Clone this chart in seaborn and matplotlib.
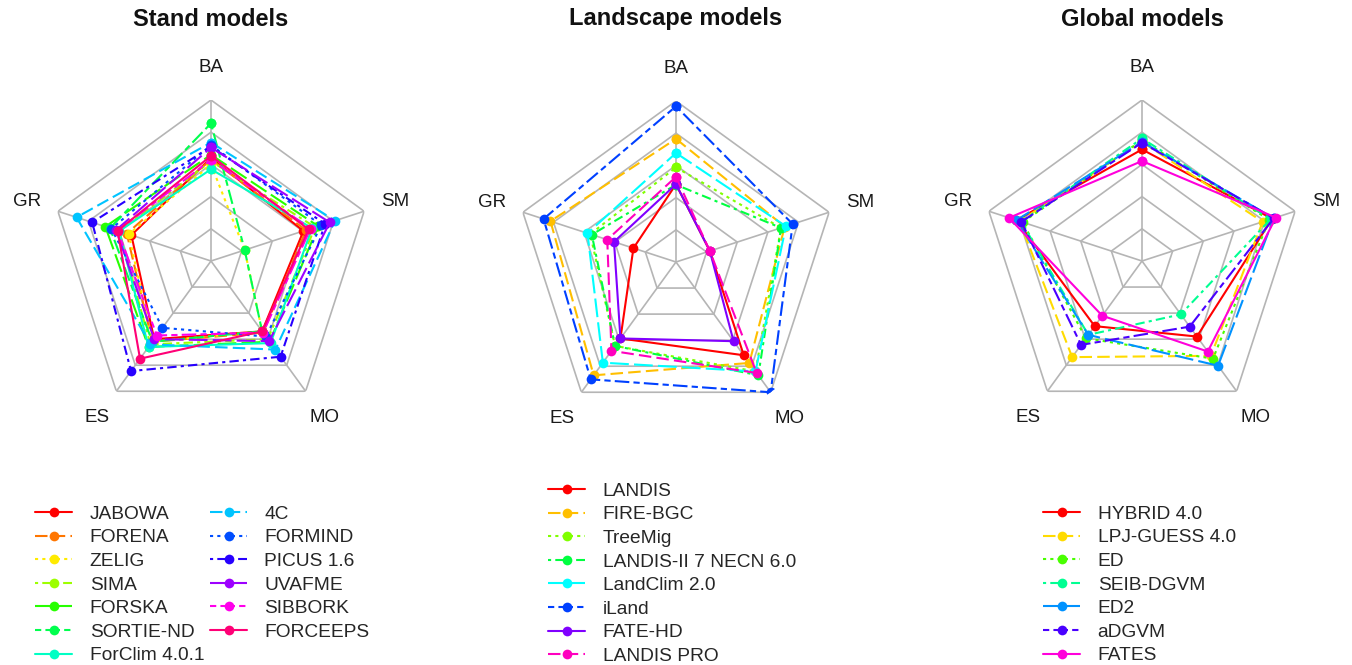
import colorsys

import numpy as np
import pandas as pd
import matplotlib
matplotlib.use("Agg")
import matplotlib.pyplot as plt
from matplotlib.lines import Line2D
import seaborn as sns

# ---------------------------------------------------------------- data
criteria = ["BA", "SM", "MO", "ES", "GR"]

stand_models = ["JABOWA", "FORENA", "ZELIG", "SIMA", "FORSKA", "SORTIE-ND",
                "ForClim 4.0.1", "4C", "FORMIND", "PICUS 1.6", "UVAFME",
                "SIBBORK", "FORCEEPS"]
stand_BA = [0.64, 0.63, 0.60, 0.62, 0.66, 0.855, 0.57, 0.736, 0.72, 0.71, 0.705, 0.628, 0.653]
stand_SM = [0.604, 0.62, 0.22, 0.68, 0.70, 0.22, 0.66, 0.81, 0.72, 0.745, 0.776, 0.65, 0.637]
stand_MO = [0.54, 0.55, 0.54, 0.60, 0.62, 0.54, 0.63, 0.68, 0.58, 0.735, 0.615, 0.55, 0.54]
stand_ES = [0.60, 0.62, 0.62, 0.64, 0.66, 0.62, 0.66, 0.64, 0.513, 0.845, 0.60, 0.572, 0.75]
stand_GR = [0.52, 0.55, 0.537, 0.60, 0.69, 0.66, 0.60, 0.878, 0.65, 0.776, 0.62, 0.61, 0.61]

landscape_models = ["LANDIS", "FIRE-BGC", "TreeMig", "LANDIS-II 7 NECN 6.0",
                    "LandClim 2.0", "iLand", "FATE-HD", "LANDIS PRO"]
landscape_BA = [0.483, 0.765, 0.5875, 0.48, 0.677, 0.967, 0.483, 0.529]
landscape_SM = [0.221, 0.71, 0.686, 0.686, 0.718, 0.762, 0.221, 0.221]
landscape_MO = [0.716, 0.775, 0.84, 0.87, 0.84, 1.0, 0.608, 0.852]
landscape_ES = [0.587, 0.87, 0.644, 0.644, 0.773, 0.901, 0.587, 0.682]
landscape_GR = [0.278, 0.82, 0.56, 0.55, 0.578, 0.865, 0.405, 0.449]

global_models = ["HYBRID 4.0", "LPJ-GUESS 4.0", "ED", "SEIB-DGVM", "ED2",
                 "aDGVM", "FATES"]
global_BA = [0.693, 0.74, 0.75, 0.761, 0.74, 0.735, 0.621]
global_SM = [0.85, 0.788, 0.83, 0.84, 0.86, 0.86, 0.874]
global_MO = [0.58, 0.728, 0.75, 0.41, 0.804, 0.504, 0.695]
global_ES = [0.50, 0.738, 0.593, 0.567, 0.567, 0.644, 0.42]
global_GR = [0.82, 0.80, 0.78, 0.79, 0.82, 0.788, 0.868]

grid_levels = [0.2, 0.4, 0.6, 0.8, 1.0]

# ---------------------------------------------------------------- style
sns.set_theme(style="white")
plt.rcParams["font.family"] = ["Liberation Sans", "DejaVu Sans"]

W, H = 1352, 665
GRID_COLOR = "#b5b5b5"
LINE_STYLES = [
    "-",                        # solid
    (0, (6, 2.5)),              # dashed
    (0, (1.5, 2.0)),            # dotted
    (0, (1.5, 2.0, 4.5, 2.0)),  # dot-dash
    (0, (9, 2.5)),              # long dash
    (0, (3, 2, 7, 2)),          # two-dash
]


def rainbow(n):
    return [colorsys.hsv_to_rgb(i / n, 1.0, 1.0) for i in range(n)]


def fig_xy(x, y):
    """Pixel position (from top-left) to figure fraction."""
    return x / W, 1 - y / H


def radar_frame(models, BA, SM, MO, ES, GR):
    df = pd.DataFrame({"model": models, "BA": BA, "SM": SM, "MO": MO,
                       "ES": ES, "GR": GR})
    long = df.melt(id_vars="model", value_vars=criteria,
                   var_name="criterion", value_name="score")
    angle = {c: 2 * np.pi * i / len(criteria) for i, c in enumerate(criteria)}
    long["theta"] = long["criterion"].map(angle)
    # close each polygon by repeating the first criterion at 2*pi
    first = long[long["criterion"] == criteria[0]].copy()
    first["theta"] = 2 * np.pi
    long = pd.concat([long, first], ignore_index=True)
    return long.sort_values(["model", "theta"])


def radar_panel(fig, cx, cy, radius, title, models, values):
    x0, y0 = fig_xy(cx - radius, cy + radius)
    ax = fig.add_axes([x0, y0, 2 * radius / W, 2 * radius / H],
                      projection="polar")
    ax.set_theta_offset(np.pi / 2)
    ax.set_theta_direction(-1)
    ax.grid(False)
    ax.spines["polar"].set_visible(False)
    ax.patch.set_alpha(0)

    spokes = np.linspace(0, 2 * np.pi, len(criteria) + 1)
    for lev in grid_levels:
        ax.plot(spokes, [lev] * len(spokes), color=GRID_COLOR, lw=1.2,
                zorder=1)
    for t in spokes[:-1]:
        ax.plot([t, t], [0, 1], color=GRID_COLOR, lw=1.2, zorder=1)
    for t, lab in zip(spokes[:-1], criteria):
        ax.text(t, 1.2, lab, ha="center", va="center", fontsize=13.5,
                color="#1a1a1a")

    data = radar_frame(models, *values)
    colors = rainbow(len(models))
    handles = []
    for i, m in enumerate(models):
        sub = data[data["model"] == m]
        ls = LINE_STYLES[i % len(LINE_STYLES)]
        sns.lineplot(x=sub["theta"].to_numpy(), y=sub["score"].to_numpy(),
                     ax=ax, sort=False, estimator=None, color=colors[i],
                     linestyle=ls, lw=1.5, marker="o", markersize=7,
                     markeredgewidth=0, zorder=3 + i)
        handles.append(Line2D([], [], color=colors[i], linestyle=ls, lw=1.5,
                              marker="o", markersize=7, markeredgewidth=0))

    ax.set_ylim(0, 1)
    ax.set_xticks([])
    ax.set_yticks([])
    ax.set_xlabel("")
    ax.set_ylabel("")

    tx, ty = fig_xy(cx, 19)
    fig.text(tx, ty, title, ha="center", va="center", fontsize=17,
             fontweight="bold", color="#111111")
    return handles


fig = plt.figure(figsize=(W / 100, H / 100), dpi=100)

R = 161
h1 = radar_panel(fig, 211, 261, R, "Stand models", stand_models,
                 (stand_BA, stand_SM, stand_MO, stand_ES, stand_GR))
h2 = radar_panel(fig, 676, 262, R, "Landscape models", landscape_models,
                 (landscape_BA, landscape_SM, landscape_MO, landscape_ES,
                  landscape_GR))
h3 = radar_panel(fig, 1142, 261, R, "Global models", global_models,
                 (global_BA, global_SM, global_MO, global_ES, global_GR))

legend_kw = dict(frameon=False, fontsize=13.8, handlelength=1.95,
                 handletextpad=0.9, labelspacing=0.32, borderpad=0,
                 borderaxespad=0, loc="upper left", numpoints=1,
                 bbox_transform=fig.transFigure)
fig.legend(h1, stand_models, ncol=2, columnspacing=0.3,
           bbox_to_anchor=fig_xy(35, 505.5), **legend_kw)
fig.legend(h2, landscape_models, ncol=1,
           bbox_to_anchor=fig_xy(548, 482.5), **legend_kw)
fig.legend(h3, global_models, ncol=1,
           bbox_to_anchor=fig_xy(1043, 505.5), **legend_kw)

fig.savefig("out.png", dpi=100, facecolor="white")
